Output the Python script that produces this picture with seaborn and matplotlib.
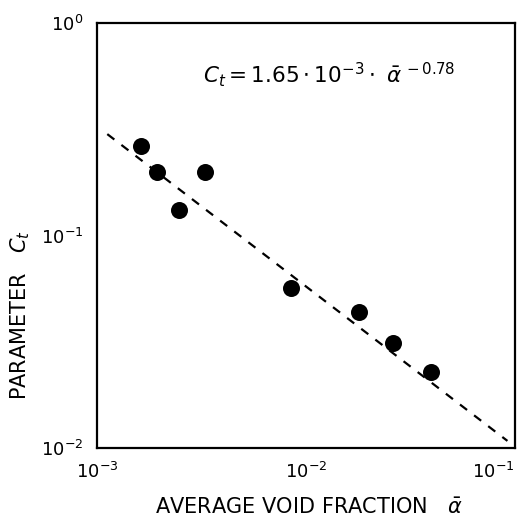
import matplotlib
matplotlib.use("Agg")
import matplotlib.pyplot as plt
import seaborn as sns
import pandas as pd
import numpy as np

# data
void_fraction = [1.62e-3, 1.94e-3, 2.48e-3, 3.29e-3, 8.45e-3, 1.80e-2, 2.62e-2, 3.98e-2]
param_ct = [0.264, 0.199, 0.132, 0.198, 0.0564, 0.0435, 0.0313, 0.0227]
fit_x = [1.12e-3, 9.2e-2]
fit_y = [0.30, 0.0108]
x_ticks = [1e-3, 1e-2, 1e-1]
x_tick_labels = [r"$10^{-3}$", r"$10^{-2}$", r"$10^{-1}$"]
y_ticks = [1e-2, 1e-1, 1e0]
y_tick_labels = [r"$10^{-2}$", r"$10^{-1}$", r"$10^{0}$"]

sns.set_theme(style="white")
plt.rcParams["font.family"] = ["DejaVu Sans"]
plt.rcParams["text.color"] = "black"
plt.rcParams["axes.labelcolor"] = "black"
plt.rcParams["xtick.color"] = "black"
plt.rcParams["ytick.color"] = "black"

W, H = 520, 530
fig = plt.figure(figsize=(5.2, 5.3), dpi=100)
ax = fig.add_axes([97/W, 1-448/H, (515-97)/W, (448-23)/H])

pts = pd.DataFrame({"a": void_fraction, "c": param_ct})
fit = pd.DataFrame({"a": fit_x, "c": fit_y})

sns.lineplot(data=fit, x="a", y="c", ax=ax, color="black", lw=1.6,
             linestyle=(0, (4, 4)))
sns.scatterplot(data=pts, x="a", y="c", ax=ax, color="black", s=150,
                edgecolor="black", linewidth=0, zorder=3)

ax.set_xscale("log")
ax.set_yscale("log")
ax.set_xlim(1e-3, 1e-1)
ax.set_ylim(1e-2, 1e0)
ax.set_xticks(x_ticks)
ax.set_xticklabels(x_tick_labels, fontsize=13)
ax.set_yticks(y_ticks)
ax.set_yticklabels(y_tick_labels, fontsize=13)
ax.minorticks_off()
ax.tick_params(axis="both", which="major", length=5, width=1.2, color="black",
               direction="in", pad=10)
xt = ax.get_xticklabels()
xt[-1].set_horizontalalignment("right")
for sp in ax.spines.values():
    sp.set_color("black")
    sp.set_linewidth(1.6)

ax.set_xlabel("")
ax.set_ylabel("")
fig.text(309/W, 1-508/H, r"AVERAGE VOID FRACTION   $\bar{\alpha}$", fontsize=15,
         ha="center", va="center")
fig.text(20/W, 1-315/H, r"PARAMETER   $C_t$", fontsize=15, rotation=90,
         ha="center", va="center")

ax.text(0.555, 0.878, r"$C_t = 1.65\cdot 10^{-3}\cdot\ \bar{\alpha}^{\,-0.78}$",
        transform=ax.transAxes, ha="center", va="center", fontsize=15.5)

fig.savefig("out.png", dpi=100)
